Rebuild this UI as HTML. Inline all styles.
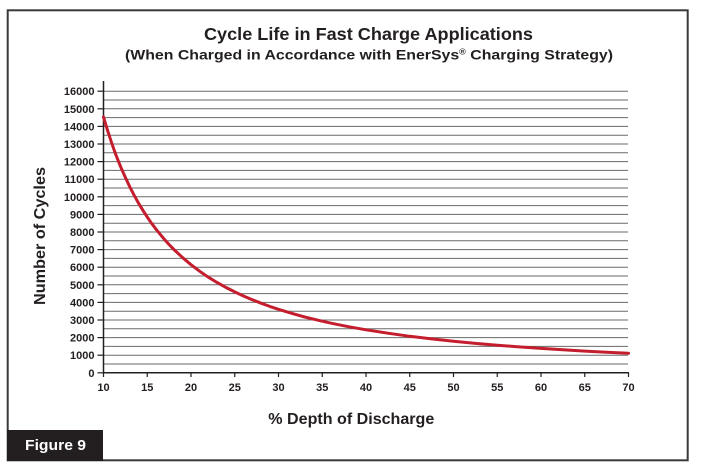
<!DOCTYPE html>
<html>
<head>
<meta charset="utf-8">
<style>
  html,body{margin:0;padding:0;background:#fff;}
  body{width:701px;height:472px;overflow:hidden;position:relative;}
  svg{position:absolute;left:0;top:0;}
  text{font-family:"Liberation Sans",Arial,sans-serif;font-weight:bold;fill:#231f20;}
</style>
</head>
<body>
<svg width="701" height="472" viewBox="0 0 701 472" xmlns="http://www.w3.org/2000/svg">
  <!-- frame -->
  <rect x="7.7" y="10.3" width="680" height="450" fill="#fff" stroke="#3a3a3a" stroke-width="2"/>
  <!-- figure label box -->
  <rect x="7" y="430" width="96" height="31" fill="#231f20"/>
  <text x="25" y="450" font-size="15" style="fill:#fff" textLength="61" lengthAdjust="spacingAndGlyphs">Figure 9</text>

  <!-- titles -->
  <text x="204" y="40" font-size="17.5" textLength="329" lengthAdjust="spacingAndGlyphs">Cycle Life in Fast Charge Applications</text>
  <text x="125" y="59.5" font-size="14" textLength="488" lengthAdjust="spacingAndGlyphs">(When Charged in Accordance with EnerSys<tspan font-size="8" dy="-5">®</tspan><tspan dy="5"> Charging Strategy)</tspan></text>

  <!-- gridlines -->
  <g stroke="#6a6a6a" stroke-width="1">
    <line x1="103" x2="628" y1="91.2" y2="91.2"/>
    <line x1="103" x2="628" y1="100" y2="100"/>
    <line x1="103" x2="628" y1="108.8" y2="108.8"/>
    <line x1="103" x2="628" y1="117.6" y2="117.6"/>
    <line x1="103" x2="628" y1="126.4" y2="126.4"/>
    <line x1="103" x2="628" y1="135.2" y2="135.2"/>
    <line x1="103" x2="628" y1="144" y2="144"/>
    <line x1="103" x2="628" y1="152.8" y2="152.8"/>
    <line x1="103" x2="628" y1="161.6" y2="161.6"/>
    <line x1="103" x2="628" y1="170.4" y2="170.4"/>
    <line x1="103" x2="628" y1="179.2" y2="179.2"/>
    <line x1="103" x2="628" y1="188" y2="188"/>
    <line x1="103" x2="628" y1="196.8" y2="196.8"/>
    <line x1="103" x2="628" y1="205.6" y2="205.6"/>
    <line x1="103" x2="628" y1="214.4" y2="214.4"/>
    <line x1="103" x2="628" y1="223.2" y2="223.2"/>
    <line x1="103" x2="628" y1="232" y2="232"/>
    <line x1="103" x2="628" y1="240.8" y2="240.8"/>
    <line x1="103" x2="628" y1="249.6" y2="249.6"/>
    <line x1="103" x2="628" y1="258.4" y2="258.4"/>
    <line x1="103" x2="628" y1="267.2" y2="267.2"/>
    <line x1="103" x2="628" y1="276" y2="276"/>
    <line x1="103" x2="628" y1="284.8" y2="284.8"/>
    <line x1="103" x2="628" y1="293.6" y2="293.6"/>
    <line x1="103" x2="628" y1="302.4" y2="302.4"/>
    <line x1="103" x2="628" y1="311.2" y2="311.2"/>
    <line x1="103" x2="628" y1="320" y2="320"/>
    <line x1="103" x2="628" y1="328.8" y2="328.8"/>
    <line x1="103" x2="628" y1="337.6" y2="337.6"/>
    <line x1="103" x2="628" y1="346.4" y2="346.4"/>
    <line x1="103" x2="628" y1="355.2" y2="355.2"/>
    <line x1="103" x2="628" y1="364" y2="364"/>
  </g>

  <!-- axes -->
  <g stroke="#231f20" stroke-width="1.5">
    <line x1="103.5" x2="103.5" y1="81" y2="373.5"/>
    <line x1="103" x2="629" y1="372.8" y2="372.8"/>
  </g>
  <!-- y ticks -->
  <g stroke="#231f20" stroke-width="1.2">
    <line x1="97.5" x2="103.5" y1="91.2" y2="91.2"/>
    <line x1="97.5" x2="103.5" y1="108.8" y2="108.8"/>
    <line x1="97.5" x2="103.5" y1="126.4" y2="126.4"/>
    <line x1="97.5" x2="103.5" y1="144" y2="144"/>
    <line x1="97.5" x2="103.5" y1="161.6" y2="161.6"/>
    <line x1="97.5" x2="103.5" y1="179.2" y2="179.2"/>
    <line x1="97.5" x2="103.5" y1="196.8" y2="196.8"/>
    <line x1="97.5" x2="103.5" y1="214.4" y2="214.4"/>
    <line x1="97.5" x2="103.5" y1="232" y2="232"/>
    <line x1="97.5" x2="103.5" y1="249.6" y2="249.6"/>
    <line x1="97.5" x2="103.5" y1="267.2" y2="267.2"/>
    <line x1="97.5" x2="103.5" y1="284.8" y2="284.8"/>
    <line x1="97.5" x2="103.5" y1="302.4" y2="302.4"/>
    <line x1="97.5" x2="103.5" y1="320" y2="320"/>
    <line x1="97.5" x2="103.5" y1="337.6" y2="337.6"/>
    <line x1="97.5" x2="103.5" y1="355.2" y2="355.2"/>
    <line x1="97.5" x2="103.5" y1="372.8" y2="372.8"/>
  </g>
  <!-- x ticks -->
  <g stroke="#231f20" stroke-width="1.2">
    <line x1="103.5" x2="103.5" y1="372.8" y2="377"/>
    <line x1="147.25" x2="147.25" y1="372.8" y2="377"/>
    <line x1="191" x2="191" y1="372.8" y2="377"/>
    <line x1="234.75" x2="234.75" y1="372.8" y2="377"/>
    <line x1="278.5" x2="278.5" y1="372.8" y2="377"/>
    <line x1="322.25" x2="322.25" y1="372.8" y2="377"/>
    <line x1="366" x2="366" y1="372.8" y2="377"/>
    <line x1="409.75" x2="409.75" y1="372.8" y2="377"/>
    <line x1="453.5" x2="453.5" y1="372.8" y2="377"/>
    <line x1="497.25" x2="497.25" y1="372.8" y2="377"/>
    <line x1="541" x2="541" y1="372.8" y2="377"/>
    <line x1="584.75" x2="584.75" y1="372.8" y2="377"/>
    <line x1="628.5" x2="628.5" y1="372.8" y2="377"/>
  </g>

  <!-- y labels -->
  <g font-size="11" text-anchor="end">
    <text x="94.5" y="95.2">16000</text>
    <text x="94.5" y="112.8">15000</text>
    <text x="94.5" y="130.4">14000</text>
    <text x="94.5" y="148">13000</text>
    <text x="94.5" y="165.6">12000</text>
    <text x="94.5" y="183.2">11000</text>
    <text x="94.5" y="200.8">10000</text>
    <text x="94.5" y="218.4">9000</text>
    <text x="94.5" y="236">8000</text>
    <text x="94.5" y="253.6">7000</text>
    <text x="94.5" y="271.2">6000</text>
    <text x="94.5" y="288.8">5000</text>
    <text x="94.5" y="306.4">4000</text>
    <text x="94.5" y="324">3000</text>
    <text x="94.5" y="341.6">2000</text>
    <text x="94.5" y="359.2">1000</text>
    <text x="94.5" y="376.8">0</text>
  </g>
  <!-- x labels -->
  <g font-size="11" text-anchor="middle">
    <text x="103.5" y="391">10</text>
    <text x="147.25" y="391">15</text>
    <text x="191" y="391">20</text>
    <text x="234.75" y="391">25</text>
    <text x="278.5" y="391">30</text>
    <text x="322.25" y="391">35</text>
    <text x="366" y="391">40</text>
    <text x="409.75" y="391">45</text>
    <text x="453.5" y="391">50</text>
    <text x="497.25" y="391">55</text>
    <text x="541" y="391">60</text>
    <text x="584.75" y="391">65</text>
    <text x="628.5" y="391">70</text>
  </g>

  <!-- axis titles -->
  <text x="268.3" y="424" font-size="16" textLength="166" lengthAdjust="spacingAndGlyphs">% Depth of Discharge</text>
  <text transform="translate(45,305) rotate(-90)" x="0" y="0" font-size="15.5" textLength="138" lengthAdjust="spacingAndGlyphs">Number of Cycles</text>

  <!-- curve -->
  <polyline fill="none" stroke="#c41e2e" stroke-width="3" stroke-linejoin="round" stroke-linecap="round"
    points="103.5,116.9 105.7,124.3 107.9,131.5 110.1,138.2 112.25,144.7 114.4,150.8 116.6,156.6 118.8,162.2 121,167.6 125.4,177.5 129.75,186.8 134.1,195.2 138.5,203.1 142.9,210.3 147.25,217.1 151.6,223.3 156,229.2 160.4,234.6 164.75,239.8 169.1,244.6 173.5,249.1 182.25,257.3 191,264.7 199.75,271.3 208.5,277.3 217.25,282.6 226,287.5 234.75,291.9 243.5,296 252.25,299.7 261,303.2 269.75,306.4 278.5,309.3 291.6,313.3 304.75,317 317.9,320.2 331,323.2 348.5,326.7 366,329.8 387.9,333.2 409.75,336.3 431.6,338.9 453.5,341.3 475.4,343.4 497.25,345.2 519.1,346.9 541,348.4 562.9,349.8 584.75,351.1 606.6,352.2 628.5,353.3"/>
</svg>
</body>
</html>
